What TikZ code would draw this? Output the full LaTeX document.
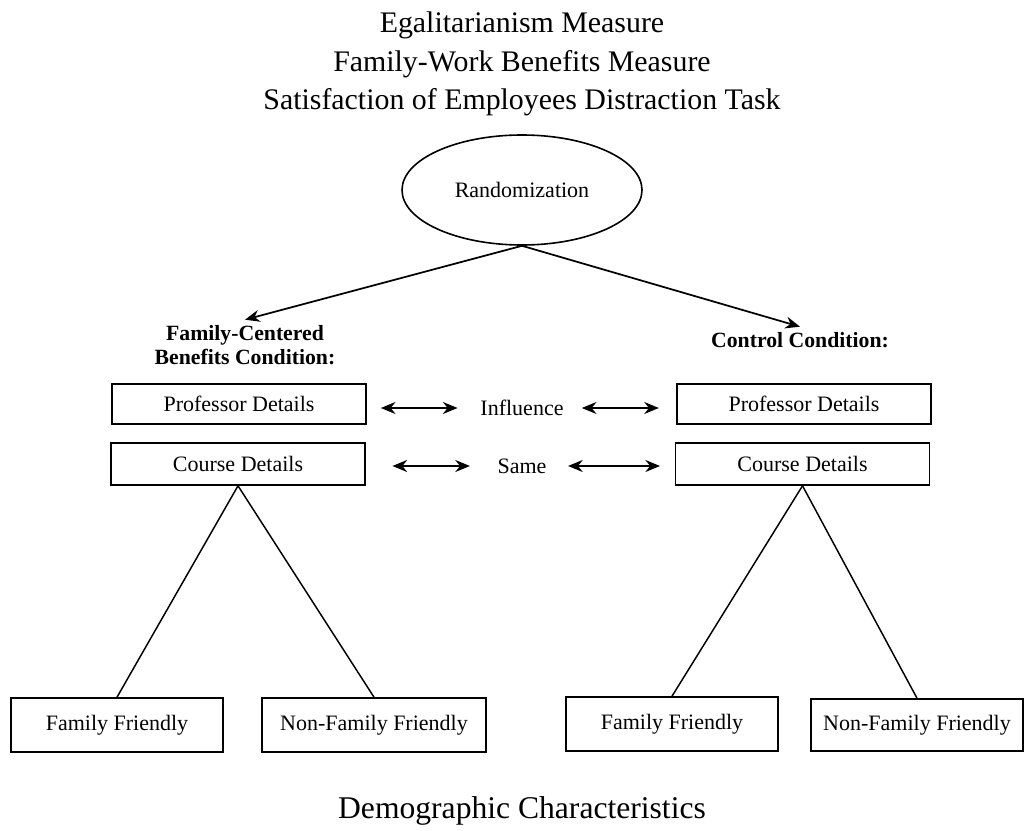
\documentclass[tikz,border=0pt]{standalone}
\usepackage{fontspec}
\setmainfont{Liberation Serif}
\usetikzlibrary{arrows.meta,shapes.geometric}

\tikzset{
	detailbox/.style={draw, line width=1.2pt, inner sep=0pt, minimum width=190.5pt, font=\fontsize{16.5}{18}\selectfont},
	leafbox/.style={draw, line width=1.2pt, inner sep=0pt, minimum height=40.5pt, font=\fontsize{16.5}{18}\selectfont},
	cond/.style={align=center, inner sep=4pt, font=\fontsize{16.3}{18}\selectfont\bfseries},
	plain/.style={inner sep=0pt, font=\fontsize{16.5}{18}\selectfont},
	big/.style={align=center, font=\fontsize{22.4}{29}\selectfont},
	arr/.style={line width=1.3pt, -{Stealth[length=11pt,width=9pt]}},
	twoway/.style={line width=1.3pt, {Stealth[length=11pt,width=9pt]}-{Stealth[length=11pt,width=9pt]}},
	branch/.style={line width=1.1pt}
}

\begin{document}
\begin{tikzpicture}[x=0.75pt,y=-0.75pt]
	\useasboundingbox (0,0) rectangle (1024,831);
		\node[big] (measures) at (522,64) {Egalitarianism Measure\\Family-Work Benefits Measure\\Satisfaction of Employees Distraction Task};
		\node[draw, ellipse, line width=1.2pt, inner sep=0pt, minimum width=180pt, minimum height=82.5pt, font=\fontsize{16.5}{18}\selectfont] (rand) at (522,190) {Randomization};

		% the two conditions
		\node[cond] (famcond) at (245,345) {Family-Centered\\Benefits Condition:};
		\node[cond] (ctrlcond) at (800,340) {Control Condition:};
		\draw[arr] (rand.south) -- (famcond.north);
		\draw[arr] (rand.south) -- (ctrlcond.north);

		\node[detailbox, minimum height=30pt] (profL) at (239,404) {Professor Details};
		\node[detailbox, minimum height=31.5pt] (courseL) at (238,464) {Course Details};
		\node[detailbox, minimum height=30pt] (profR) at (804,404) {Professor Details};
		\node[detailbox, minimum height=31.5pt] (courseR) at (802.5,464) {Course Details};

		\node[plain] (infl) at (522,408) {Influence};
		\node[plain] (same) at (522,466) {Same};
		\draw[twoway, shorten <=10.5pt, shorten >=17pt] (profL.east |- infl) -- (infl.west);
		\draw[twoway, shorten <=13.5pt, shorten >=13pt] (infl.east) -- (profR.west |- infl);
		\draw[twoway, shorten <=20pt, shorten >=20.5pt] (courseL.east |- same) -- (same.west);
		\draw[twoway, shorten <=16pt, shorten >=11pt] (same.east) -- (courseR.west |- same);

		% leaves
		\node[leafbox, minimum width=159pt] (famL) at (117,725) {Family Friendly};
		\node[leafbox, minimum width=168pt] (nonfamL) at (374,725) {Non-Family Friendly};
		\node[leafbox, minimum width=159pt] (famR) at (672,724) {Family Friendly};
		\node[leafbox, minimum width=159pt, minimum height=39pt] (nonfamR) at (917,725) {Non-Family Friendly};
		\draw[branch] (courseL.south) -- (famL.north);
		\draw[branch] (courseL.south) -- (nonfamL.north);
		\draw[branch] (courseR.south) -- (famR.north);
		\draw[branch] (courseR.south) -- (nonfamR.north);

		\node[align=center, font=\fontsize{23.7}{28}\selectfont] (demo) at (522,811) {Demographic Characteristics};
	\end{tikzpicture}
\end{document}
